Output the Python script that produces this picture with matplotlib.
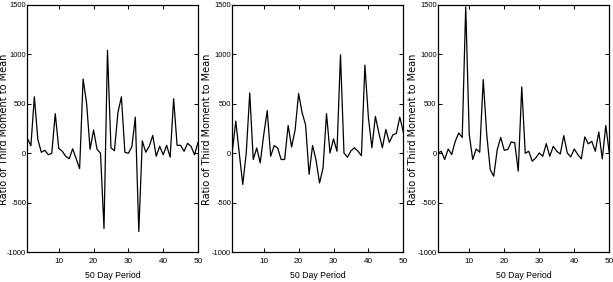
import matplotlib
matplotlib.use("Agg")
import matplotlib.pyplot as plt

plt.rcParams["axes.unicode_minus"] = False

days = list(range(1, 51))

series_a = [150, 75, 570, 140, 10, 30, -15, 0, 400, 50,
            20, -30, -55, 45, -55, -155, 750, 505, 40, 235,
            40, 0, -760, 1040, 55, 25, 410, 570, 10, 0,
            65, 365, -790, 125, 10, 70, 180, -30, 70, -15,
            80, -40, 550, 80, 80, 20, 100, 70, -15, 110]

series_b = [20, 325, 0, -315, 5, 610, -63, 53, -97, 185,
            430, -30, 77, 53, -63, -63, 280, 63, 237, 603,
            410, 287, -213, 78, -70, -300, -148, 400, 3, 145,
            20, 995, 3, -40, 25, 55, 22, -25, 890, 360,
            55, 372, 205, 55, 240, 110, 185, 200, 365, 215]

series_c = [0, 20, -63, 43, -13, 120, 205, 160, 1478, 190,
            -63, 43, 10, 744, 190, -165, -232, 37, 160, 30,
            37, 115, 105, -180, 670, 0, 20, -80, -47, 3,
            -30, 97, -30, 70, 20, -7, 178, 3, -37, 43,
            -13, -57, 165, 95, 120, 20, 215, -57, 280, 0]

xticks = [10, 20, 30, 40, 50]
yticks = [-1000, -500, 0, 500, 1000, 1500]
xlabel = "50 Day Period"
ylabel = "Ratio of Third Moment to Mean"

tick_font = "Liberation Sans"
xtick_size = 5.9
ytick_size = 5.4

fig = plt.figure(figsize=(6.13, 2.82), dpi=100)
W, H = 613, 282
lefts = [27.4, 232.3, 437.7]
rights = [198.0, 403.3, 609.3]
top, bottom = 4.7, 252.3
ylabel_base_x = [7.4, 210.3, 416.3]

for i, s in enumerate([series_a, series_b, series_c]):
    ax = fig.add_axes([lefts[i] / W, 1 - bottom / H,
                       (rights[i] - lefts[i]) / W, (bottom - top) / H])
    ax.plot(days, s, color="black", lw=0.9)
    ax.set_xlim(1, 50)
    ax.set_ylim(-1000, 1500)
    ax.set_xticks(xticks)
    ax.set_yticks(yticks)
    ax.tick_params(direction="in", length=3, width=0.7, top=True, right=True)
    ax.tick_params(axis="x", pad=3.8)
    ax.tick_params(axis="y", pad=0.8)
    for lab in ax.get_xticklabels():
        lab.set_family(tick_font)
        lab.set_fontsize(xtick_size)
    for lab in ax.get_yticklabels():
        lab.set_family(tick_font)
        lab.set_fontsize(ytick_size)
    for sp in ax.spines.values():
        sp.set_linewidth(0.9)
    cx = (lefts[i] + rights[i]) / 2
    fig.text(cx / W, 1 - 275.5 / H, xlabel, fontsize=xtick_size + 0.4,
             family=tick_font, ha="center", va="center")
    fig.text(ylabel_base_x[i] / W, 1 - 129.5 / H, ylabel, rotation=90,
             rotation_mode="anchor", fontsize=7.0, family="DejaVu Sans",
             ha="center", va="baseline")

fig.savefig("out.png", dpi=100, facecolor="white")
